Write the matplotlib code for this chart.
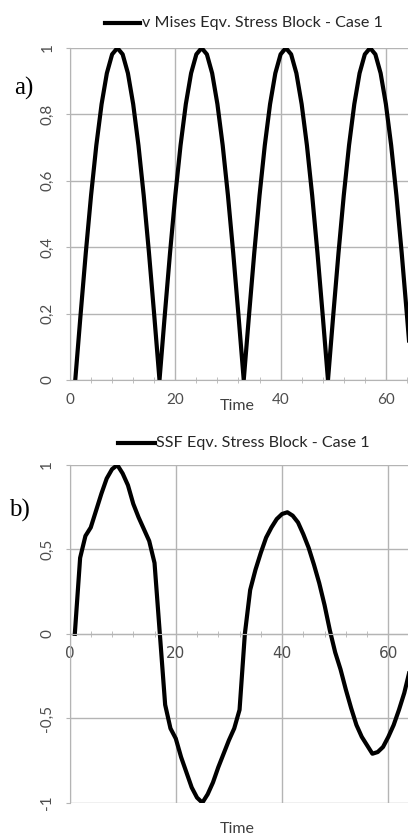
import matplotlib.pyplot as plt
from matplotlib.ticker import MultipleLocator, FuncFormatter
from matplotlib.lines import Line2D

# time steps (same for both blocks)
time = list(range(1, 66))

# a) v Mises equivalent stress block
mises = [0, 0.195, 0.383, 0.556, 0.707, 0.831, 0.924, 0.981, 1.0, 0.981, 0.924, 0.831, 0.707, 0.556, 0.383, 0.195,
         0, 0.195, 0.383, 0.556, 0.707, 0.831, 0.924, 0.981, 1.0, 0.981, 0.924, 0.831, 0.707, 0.556, 0.383, 0.195,
         0, 0.195, 0.383, 0.556, 0.707, 0.831, 0.924, 0.981, 1.0, 0.981, 0.924, 0.831, 0.707, 0.556, 0.383, 0.195,
         0, 0.195, 0.383, 0.556, 0.707, 0.831, 0.924, 0.981, 1.0, 0.981, 0.924, 0.831, 0.707, 0.556, 0.383, 0.195,
         0]

# b) SSF equivalent stress block
ssf = [0, 0.45, 0.58, 0.63, 0.73, 0.83, 0.92, 0.975, 1.0, 0.95, 0.88, 0.77, 0.69, 0.62, 0.55, 0.42,
       0, -0.42, -0.56, -0.62, -0.73, -0.82, -0.91, -0.97, -1.0, -0.95, -0.88, -0.79, -0.71, -0.63, -0.56, -0.45,
       0, 0.26, 0.38, 0.48, 0.57, 0.63, 0.68, 0.71, 0.72, 0.70, 0.66, 0.59, 0.51, 0.41, 0.30, 0.17,
       0.02, -0.11, -0.21, -0.33, -0.44, -0.54, -0.61, -0.66, -0.71, -0.70, -0.67, -0.61, -0.54, -0.45, -0.35, -0.22,
       -0.10]

label_a = "v Mises Eqv. Stress Block - Case 1"
label_b = "SSF Eqv. Stress Block - Case 1"

W, H = 408, 835
grid_c = '#b4b4b4'
tick_c = '#4d4d4d'
font = 'Lato'

fig = plt.figure(figsize=(W/100, H/100), dpi=100)

def comma(v, pos):
    return ('%g' % v).replace('.', ',')

def setup(ax, ylo, yhi, ystep, xright):
    ax.set_xlim(0, xright)
    ax.set_ylim(ylo, yhi)
    ax.xaxis.set_major_locator(MultipleLocator(20))
    ax.xaxis.set_minor_locator(MultipleLocator(4))
    ax.yaxis.set_major_locator(MultipleLocator(ystep))
    ax.yaxis.set_major_formatter(FuncFormatter(comma))
    ax.grid(True, which='major', color=grid_c, lw=1.0)
    ax.set_axisbelow(True)
    for s in ['top', 'right']:
        ax.spines[s].set_visible(False)
    ax.spines['left'].set_color(grid_c)
    ax.spines['bottom'].set_color(grid_c)
    ax.tick_params(axis='x', which='major', length=0, labelsize=11, labelcolor=tick_c, pad=9)
    ax.tick_params(axis='x', which='minor', length=4, direction='inout', color=grid_c)
    ax.tick_params(axis='y', length=3, color=grid_c, labelsize=11, labelcolor=tick_c, pad=8)
    for t in ax.get_yticklabels():
        t.set_rotation(90)
        t.set_va('center')
    for t in ax.get_xticklabels() + ax.get_yticklabels():
        t.set_family(font)

# top panel
ax1 = fig.add_axes([70/W, 1-380/H, 1-70/W, (380-48)/H])
ax1.plot(time, mises, color='black', lw=3, solid_joinstyle='round')
setup(ax1, 0, 1, 0.2, 64.2)

# bottom panel
ax2 = fig.add_axes([69.5/W, 1-802.7/H, 1-69.5/W, (802.7-465)/H])
ax2.plot(time, ssf, color='black', lw=3, solid_joinstyle='round')
setup(ax2, -1, 1, 0.5, 63.7)
ax2.spines['bottom'].set_position(('data', 0))

# legends
fig.add_artist(Line2D([105/W, 140/W], [1-23/H, 1-23/H], color='black', lw=3))
fig.text(142/W, 1-23/H, label_a, family=font, fontsize=11.6, color='#262626', va='center', ha='left')
fig.add_artist(Line2D([118/W, 155/W], [1-443/H, 1-443/H], color='black', lw=3))
fig.text(156/W, 1-443/H, label_b, family=font, fontsize=11.6, color='#262626', va='center', ha='left')

# axis titles
fig.text(237/W, 1-406/H, "Time", family=font, fontsize=11.5, color='#404040', ha='center', va='center')
fig.text(237/W, 1-829/H, "Time", family=font, fontsize=11.5, color='#404040', ha='center', va='center')

# panel letters
fig.text(24/W, 1-88/H, "a)", family='Liberation Serif', fontsize=18, ha='center', va='center')
fig.text(19/W, 1-510/H, "b)", family='Liberation Serif', fontsize=18, ha='center', va='center')

fig.savefig('out.png', dpi=100)
